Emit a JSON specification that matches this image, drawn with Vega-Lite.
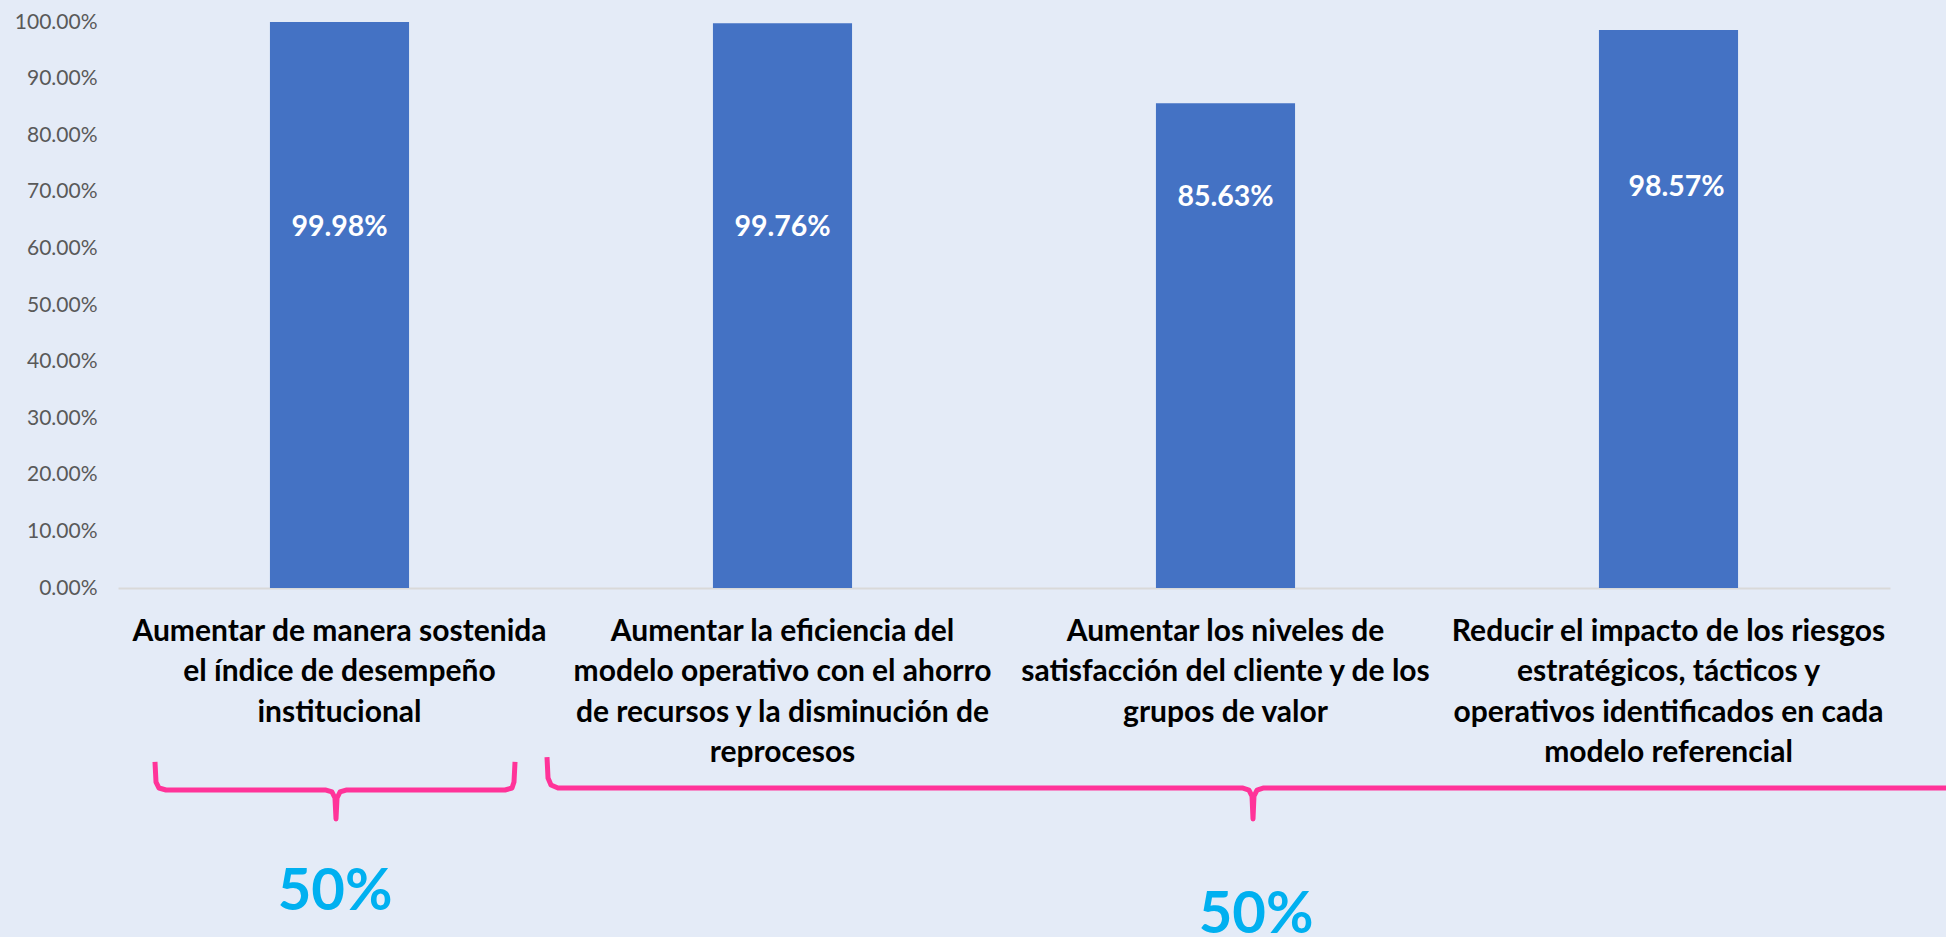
{
  "$schema": "https://vega.github.io/schema/vega-lite/v6.json",
  "autosize": {"type": "none"},
  "padding": {"left": 118, "top": 22, "right": 56, "bottom": 349},
  "width": 1772,
  "height": 566,
  "background": "#E4EBF7",
  "config": {"view": {"stroke": null}, "font": "Lato"},
  "datasets": {
    "objetivos": [
      {"objetivo": "Aumentar de manera sostenida el índice de desempeño institucional", "valor": 0.9998},
      {"objetivo": "Aumentar la eficiencia del modelo operativo con el ahorro de recursos y la disminución de reprocesos", "valor": 0.9976},
      {"objetivo": "Aumentar los niveles de satisfacción del cliente y de los grupos de valor", "valor": 0.8563},
      {"objetivo": "Reducir el impacto de los riesgos estratégicos, tácticos y operativos identificados en cada modelo referencial", "valor": 0.9857}
    ],
    "llaves": [
      {"llave": "A", "orden": 1, "pos": 0.0835, "nivel": -0.3074},
      {"llave": "A", "orden": 2, "pos": 0.0858, "nivel": -0.3428},
      {"llave": "A", "orden": 3, "pos": 0.0926, "nivel": -0.3534},
      {"llave": "A", "orden": 4, "pos": 0.1084, "nivel": -0.3569},
      {"llave": "A", "orden": 5, "pos": 0.4695, "nivel": -0.3569},
      {"llave": "A", "orden": 6, "pos": 0.4831, "nivel": -0.3604},
      {"llave": "A", "orden": 7, "pos": 0.4898, "nivel": -0.3710},
      {"llave": "A", "orden": 8, "pos": 0.4921, "nivel": -0.4081},
      {"llave": "A", "orden": 9, "pos": 0.4944, "nivel": -0.3710},
      {"llave": "A", "orden": 10, "pos": 0.5011, "nivel": -0.3604},
      {"llave": "A", "orden": 11, "pos": 0.5147, "nivel": -0.3569},
      {"llave": "A", "orden": 12, "pos": 0.8736, "nivel": -0.3569},
      {"llave": "A", "orden": 13, "pos": 0.8894, "nivel": -0.3534},
      {"llave": "A", "orden": 14, "pos": 0.8939, "nivel": -0.3428},
      {"llave": "A", "orden": 15, "pos": 0.8962, "nivel": -0.3074},
      {"llave": "B", "orden": 1, "pos": 0.9684, "nivel": -0.2986},
      {"llave": "B", "orden": 2, "pos": 0.9707, "nivel": -0.3357},
      {"llave": "B", "orden": 3, "pos": 0.9774, "nivel": -0.3481},
      {"llave": "B", "orden": 4, "pos": 0.9932, "nivel": -0.3534},
      {"llave": "B", "orden": 5, "pos": 2.5395, "nivel": -0.3534},
      {"llave": "B", "orden": 6, "pos": 2.5530, "nivel": -0.3569},
      {"llave": "B", "orden": 7, "pos": 2.5598, "nivel": -0.3675},
      {"llave": "B", "orden": 8, "pos": 2.5621, "nivel": -0.4081},
      {"llave": "B", "orden": 9, "pos": 2.5643, "nivel": -0.3675},
      {"llave": "B", "orden": 10, "pos": 2.5711, "nivel": -0.3569},
      {"llave": "B", "orden": 11, "pos": 2.5847, "nivel": -0.3534},
      {"llave": "B", "orden": 12, "pos": 4.2257, "nivel": -0.3534}
    ]
  },
  "layer": [
    {
      "data": {"name": "objetivos"},
      "layer": [
        {
          "mark": {"type": "bar", "color": "#4472C4"},
          "encoding": {
            "x": {
              "field": "objetivo",
              "type": "nominal",
              "sort": null,
              "title": null,
              "scale": {
                "domain": [
                  "Aumentar de manera sostenida el índice de desempeño institucional",
                  "Aumentar la eficiencia del modelo operativo con el ahorro de recursos y la disminución de reprocesos",
                  "Aumentar los niveles de satisfacción del cliente y de los grupos de valor",
                  "Reducir el impacto de los riesgos estratégicos, tácticos y operativos identificados en cada modelo referencial"
                ],
                "paddingInner": 0.686,
                "paddingOuter": 0.343
              },
              "axis": {
                "orient": "bottom",
                "labelAngle": 0,
                "ticks": false,
                "grid": false,
                "domainColor": "#D9D9D9",
                "domainWidth": 2,
                "labelPadding": 28,
                "labelBaseline": "top",
                "labelFont": "Lato",
                "labelFontWeight": "bold",
                "labelFontSize": 30,
                "labelColor": "#000000",
                "labelLineHeight": 40.5,
                "labelLimit": 0,
                "labelOverlap": false,
                "labelBound": false,
                "labelExpr": "datum.value == 'Aumentar de manera sostenida el índice de desempeño institucional' ? ['Aumentar de manera sostenida', 'el índice de desempeño', 'institucional'] : datum.value == 'Aumentar la eficiencia del modelo operativo con el ahorro de recursos y la disminución de reprocesos' ? ['Aumentar la eficiencia del', 'modelo operativo con el ahorro', 'de recursos y la disminución de', 'reprocesos'] : datum.value == 'Aumentar los niveles de satisfacción del cliente y de los grupos de valor' ? ['Aumentar los niveles de', 'satisfacción del cliente y de los', 'grupos de valor'] : ['Reducir el impacto de los riesgos', 'estratégicos, tácticos y', 'operativos identificados en cada', 'modelo referencial']"
              }
            },
            "y": {
              "field": "valor",
              "type": "quantitative",
              "title": null,
              "scale": {"domain": [0, 1], "nice": false, "zero": false},
              "axis": {
                "values": [0, 0.1, 0.2, 0.3, 0.4, 0.5, 0.6, 0.7, 0.8, 0.9, 1],
                "format": ".2%",
                "domain": false,
                "ticks": false,
                "grid": false,
                "labelPadding": 21,
                "labelFont": "Lato",
                "labelFontSize": 21,
                "labelColor": "#595959"
              }
            }
          }
        },
        {
          "transform": [{"filter": {"field": "valor", "oneOf": [0.9998, 0.9976]}}],
          "mark": {"type": "text", "color": "#FFFFFF", "font": "Lato", "fontWeight": "bold", "fontSize": 28.5, "baseline": "middle", "align": "center"},
          "encoding": {
            "x": {"field": "objetivo", "type": "nominal", "sort": null},
            "y": {"datum": 0.638, "type": "quantitative"},
            "text": {"field": "valor", "type": "quantitative", "format": ".2%"}
          }
        },
        {
          "transform": [{"filter": {"field": "valor", "equal": 0.8563}}],
          "mark": {"type": "text", "color": "#FFFFFF", "font": "Lato", "fontWeight": "bold", "fontSize": 28.5, "baseline": "middle", "align": "center"},
          "encoding": {
            "x": {"field": "objetivo", "type": "nominal", "sort": null},
            "y": {"datum": 0.690, "type": "quantitative"},
            "text": {"field": "valor", "type": "quantitative", "format": ".2%"}
          }
        },
        {
          "transform": [{"filter": {"field": "valor", "equal": 0.9857}}],
          "mark": {"type": "text", "color": "#FFFFFF", "font": "Lato", "fontWeight": "bold", "fontSize": 28.5, "baseline": "middle", "align": "center", "dx": 8},
          "encoding": {
            "x": {"field": "objetivo", "type": "nominal", "sort": null},
            "y": {"datum": 0.708, "type": "quantitative"},
            "text": {"field": "valor", "type": "quantitative", "format": ".2%"}
          }
        }
      ]
    },
    {
      "layer": [
        {
          "data": {"name": "llaves"},
          "mark": {"type": "line", "color": "#FF3399", "strokeWidth": 5, "strokeJoin": "round", "strokeCap": "butt"},
          "encoding": {
            "x": {"field": "pos", "type": "quantitative", "axis": null, "scale": {"domain": [0, 4], "nice": false, "zero": false}},
            "y": {"field": "nivel", "type": "quantitative", "title": null},
            "detail": {"field": "llave", "type": "nominal"},
            "order": {"field": "orden", "type": "quantitative"}
          }
        },
        {
          "data": {"values": [{"texto": "50%"}]},
          "mark": {"type": "text", "color": "#00B0F0", "font": "Lato", "fontWeight": "bold", "fontSize": 58, "baseline": "middle", "align": "center"},
          "encoding": {
            "x": {"datum": 0.49, "type": "quantitative"},
            "y": {"datum": -0.539, "type": "quantitative"},
            "text": {"field": "texto", "type": "nominal"}
          }
        },
        {
          "data": {"values": [{"texto": "50%"}]},
          "mark": {"type": "text", "color": "#00B0F0", "font": "Lato", "fontWeight": "bold", "fontSize": 58, "baseline": "middle", "align": "center"},
          "encoding": {
            "x": {"datum": 2.569, "type": "quantitative"},
            "y": {"datum": -0.580, "type": "quantitative"},
            "text": {"field": "texto", "type": "nominal"}
          }
        }
      ]
    }
  ],
  "resolve": {"scale": {"x": "independent"}, "axis": {"x": "independent"}}
}
